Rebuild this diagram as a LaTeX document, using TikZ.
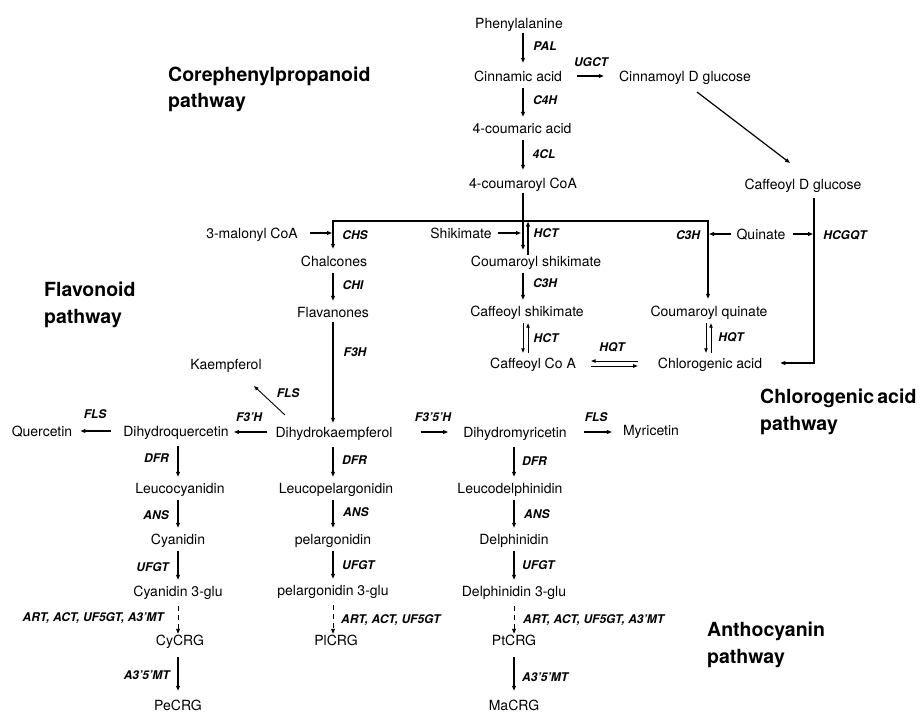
\documentclass[tikz,border=0pt]{standalone}
\usepackage{fontspec}
\setmainfont{TeX Gyre Heros}
\usetikzlibrary{arrows.meta,calc}
\begin{document}
\begin{tikzpicture}[x=1pt,y=-1pt,
  every node/.style={inner sep=0pt},
  cmp/.style={font=\fontsize{14}{16}\selectfont, text height=10pt, text depth=0pt, anchor=center},
  enz/.style={font=\fontsize{12}{14}\selectfont\bfseries\itshape, text height=8.6pt, text depth=0pt},
  ttl/.style={font=\fontsize{19.5}{24}\selectfont\bfseries, anchor=base west},
  arr/.style={line width=1.2pt, -{Triangle[length=5pt,width=3.8pt]}, shorten <=7pt, shorten >=6pt},
  thinarr/.style={line width=0.9pt, -{Triangle[length=4.5pt,width=3.4pt]}},
  dsh/.style={line width=0.9pt, dash pattern=on 5pt off 4pt}
]
\useasboundingbox (0,0) rectangle (921,713);

% ---------- core phenylpropanoid ----------
\node[cmp] (phe) at (519,23) {Phenylalanine};
\node[cmp] (cin) at (518,76) {Cinnamic acid};
\node[cmp] (cac) at (522,128) {4-coumaric acid};
\node[cmp] (cco) at (523,183) {4-coumaroyl CoA};
\node[cmp] (cdg) at (685,76) {Cinnamoyl D glucose};
\node[cmp] (cfg) at (803,184) {Caffeoyl D glucose};
\coordinate (colA) at (523,0);
\coordinate (colB) at (528,0);
\coordinate (colL) at (333,0);
\coordinate (colQ) at (708,0);
\coordinate (colQa) at (706,0);
\coordinate (colQb) at (711,0);
\coordinate (colH) at (814,0);
\coordinate (colC) at (178,0);
\coordinate (colR) at (514,0);
\coordinate (j) at (523,221);

% ---------- branch level ----------
\node[cmp] (mal) at (252,233) {3-malonyl CoA};
\node[cmp] (shk) at (461,233) {Shikimate};
\node[cmp] (qui) at (761,234) {Quinate};
\node[cmp] (chal) at (334,261) {Chalcones};
\node[cmp] (csk) at (536,261) {Coumaroyl shikimate};
\node[cmp] (flav) at (333,312) {Flavanones};
\node[cmp] (cfs) at (527,311) {Caffeoyl shikimate};
\node[cmp] (cqu) at (709,311) {Coumaroyl quinate};
\node[cmp] (cca) at (533,363) {Caffeoyl Co A};
\node[cmp] (chl) at (710,363) {Chlorogenic acid};

% ---------- flavonoid ----------
\node[cmp] (kae) at (226,364) {Kaempferol};
\node[cmp] (que) at (42,431) {Quercetin};
\node[cmp] (dhq) at (176,431) {Dihydroquercetin};
\node[cmp] (dhk) at (334,432) {Dihydrokaempferol};
\node[cmp] (dhm) at (515,432) {Dihydromyricetin};
\node[cmp] (myr) at (651,430) {Myricetin};

% ---------- anthocyanin columns ----------
\node[cmp] (lcy) at (180,488) {Leucocyanidin};
\node[cmp] (cya) at (178,539) {Cyanidin};
\node[cmp] (c3g) at (178,591) {Cyanidin 3-glu};
\node[cmp] (cyc) at (180,640) {CyCRG};
\node[cmp] (pec) at (178,705) {PeCRG};
\node[cmp] (lpg) at (336,488) {Leucopelargonidin};
\node[cmp] (pel) at (333,539) {pelargonidin};
\node[cmp] (p3g) at (333,590) {pelargonidin 3-glu};
\node[cmp] (plc) at (336,640) {PlCRG};
\node[cmp] (ldp) at (510,488) {Leucodelphinidin};
\node[cmp] (del) at (514,539) {Delphinidin};
\node[cmp] (d3g) at (514,591) {Delphinidin 3-glu};
\node[cmp] (ptc) at (514,640) {PtCRG};
\node[cmp] (mac) at (514,705) {MaCRG};

% ---------- titles ----------
\node[ttl] (t1a) at (168,81) {Corephenylpropanoid};
\node[ttl] (t1b) at (168,107) {pathway};
\node[ttl] (t2a) at (44,296) {Flavonoid};
\node[ttl] (t2b) at (44,323) {pathway};
\node[ttl] (t3a) at (760,403) {Chlorogenic\,acid};
\node[ttl] (t3b) at (760,430) {pathway};
\node[ttl] (t4a) at (707,636) {Anthocyanin};
\node[ttl] (t4b) at (707,663) {pathway};

% ---------- enzyme labels ----------
\node[enz] (lPAL) at (545,46) {PAL};
\node[enz] (lUGCT) at (591,62) {UGCT};
\node[enz] (lC4H) at (545,100) {C4H};
\node[enz] (l4CL) at (544,154) {4CL};
\node[enz] (lCHS) at (355,235) {CHS};
\node[enz] (lCHI) at (353,285) {CHI};
\node[enz] (lF3H) at (355,352) {F3H};
\node[enz] (lHCTa) at (546,233) {HCT};
\node[enz] (lC3Ha) at (545,283) {C3H};
\node[enz] (lHCTb) at (546,338) {HCT};
\node[enz] (lHQTa) at (612,347) {HQT};
\node[enz] (lC3Hb) at (688,235) {C3H};
\node[enz] (lHQTb) at (731,337) {HQT};
\node[enz] (lHCGQT) at (845,235) {HCGQT};
\node[enz] (lFLSa) at (288,393) {FLS};
\node[enz] (lF3H2) at (249,417) {F3’H};
\node[enz] (lFLSb) at (95,414) {FLS};
\node[enz] (lF35H) at (433,417) {F3’5’H};
\node[enz] (lFLSc) at (596,417) {FLS};
\node[enz,anchor=east] (lDFRa) at (169,458) {DFR};
\node[enz,anchor=east] (lANSa) at (169,515) {ANS};
\node[enz,anchor=east] (lUFGTa) at (169,567) {UFGT};
\node[enz,anchor=east] (lARTa) at (164,617) {ART, ACT, UF5GT, A3’MT};
\node[enz,anchor=east] (lAMTa) at (170,675) {A3’5’MT};
\node[enz,anchor=west] (lDFRb) at (342,460) {DFR};
\node[enz,anchor=west] (lANSb) at (343,512) {ANS};
\node[enz,anchor=west] (lUFGTb) at (342,565) {UFGT};
\node[enz,anchor=west] (lARTb) at (341,619) {ART, ACT, UF5GT};
\node[enz,anchor=west] (lDFRc) at (522,461) {DFR};
\node[enz,anchor=west] (lANSc) at (524,514) {ANS};
\node[enz,anchor=west] (lUFGTc) at (522,565) {UFGT};
\node[enz,anchor=west] (lARTc) at (523,619) {ART, ACT, UF5GT, A3’MT};
\node[enz,anchor=west] (lAMTc) at (522,677) {A3’5’MT};

% ---------- connectors: core ----------
\draw[arr,shorten <=5pt,shorten >=8pt] (phe.south -| colA) -- (cin.north -| colA);
\draw[arr] (cin.south -| colA) -- (cac.north -| colA);
\draw[arr,shorten >=8pt] (cac.south -| colA) -- (cco.north -| colA);
\draw[arr,shorten <=15pt,shorten >=15pt] (cin.east) -- (cin.east -| cdg.west);
\draw[arr,shorten <=0pt,shorten >=0pt] ($(cdg.center)+(12,16)$) -- ($(cfg.center)+(-13,-21)$);

% ---------- branch junction ----------
\draw[arr,shorten <=5pt] (cco.south -| colA) -- (csk.north -| colA);
\draw[arr,shorten <=0pt,shorten >=7pt] (j) -| (chal.north -| colL);
\draw[arr,shorten <=0pt,shorten >=7pt] (j) -| (cqu.north -| colQ);
\draw[arr,shorten <=0.6pt,shorten >=0.6pt] (csk.north -| colB) -- (j -| colB);
\draw[arr,shorten <=12pt,shorten >=1pt] (mal.east) -- (mal.east -| colL);
\draw[arr,shorten <=6pt,shorten >=2pt] (shk.east) -- (shk.east -| colA);
\draw[arr,shorten <=5pt,shorten >=1pt] (qui.west) -- (qui.west -| colQ);
\draw[arr,shorten <=7pt,shorten >=1pt] (qui.east) -- (qui.east -| colH);
\draw[arr,shorten <=9pt,shorten >=18pt] (cfg.south -| colH) -- (chl.east -| colH) -- (chl.east);

% ---------- shikimate / quinate side ----------
\draw[arr] (chal.south -| colL) -- (flav.north -| colL);
\draw[arr] (csk.south -| colA) -- (cfs.north -| colA);
\draw[thinarr,shorten <=7pt,shorten >=5pt] (cfs.south -| colA) -- (cca.north -| colA);
\draw[thinarr,shorten <=5pt,shorten >=7pt] (cca.north -| colB) -- (cfs.south -| colB);
\draw[thinarr,shorten <=7pt,shorten >=5pt] (cqu.south -| colQa) -- (chl.north -| colQa);
\draw[thinarr,shorten <=5pt,shorten >=7pt] (chl.north -| colQb) -- (cqu.south -| colQb);
\draw[thinarr] ($(chl.west)+(-20,-2)$) -- ($(cca.east)+(15,-2)$);
\draw[thinarr] ($(cca.east)+(15,3)$) -- ($(chl.west)+(-20,3)$);

% ---------- flavonoid ----------
\draw[arr,shorten <=5pt,shorten >=4pt] (flav.south -| colL) -- (dhk.north -| colL);
\draw[thinarr] ($(dhk.center)+(-49,-17)$) -- ($(kae.center)+(28,22)$);
\draw[arr,shorten <=8pt,shorten >=5pt] (dhk.west) -- (dhk.west -| dhq.east);
\draw[arr,shorten <=12pt,shorten >=8pt] (dhq.west) -- (dhq.west -| que.east);
\draw[arr,shorten <=28pt,shorten >=15pt] (dhk.east) -- (dhk.east -| dhm.west);
\draw[arr,shorten <=17pt,shorten >=11pt] (dhm.east) -- (dhm.east -| myr.west);

% ---------- anthocyanin columns ----------
\draw[arr,shorten <=10pt] (dhq.south -| colC) -- (lcy.north -| colC);
\draw[arr] (lcy.south -| colC) -- (cya.north -| colC);
\draw[arr] (cya.south -| colC) -- (c3g.north -| colC);
\draw[arr,dsh,shorten <=10pt,shorten >=1pt] (c3g.south -| colC) -- (cyc.north -| colC);
\draw[arr,shorten <=12pt,shorten >=9pt] (cyc.south -| colC) -- (pec.north -| colC);

\draw[arr,shorten <=10pt] (dhk.south -| colL) -- (lpg.north -| colL);
\draw[arr] (lpg.south -| colL) -- (pel.north -| colL);
\draw[arr] (pel.south -| colL) -- (p3g.north -| colL);
\draw[arr,dsh,shorten <=10pt,shorten >=1pt] (p3g.south -| colL) -- (plc.north -| colL);

\draw[arr,shorten <=10pt] (dhm.south -| colR) -- (ldp.north -| colR);
\draw[arr] (ldp.south -| colR) -- (del.north -| colR);
\draw[arr] (del.south -| colR) -- (d3g.north -| colR);
\draw[arr,dsh,shorten <=10pt,shorten >=1pt] (d3g.south -| colR) -- (ptc.north -| colR);
\draw[arr,shorten <=12pt,shorten >=9pt] (ptc.south -| colR) -- (mac.north -| colR);
\end{tikzpicture}
\end{document}
